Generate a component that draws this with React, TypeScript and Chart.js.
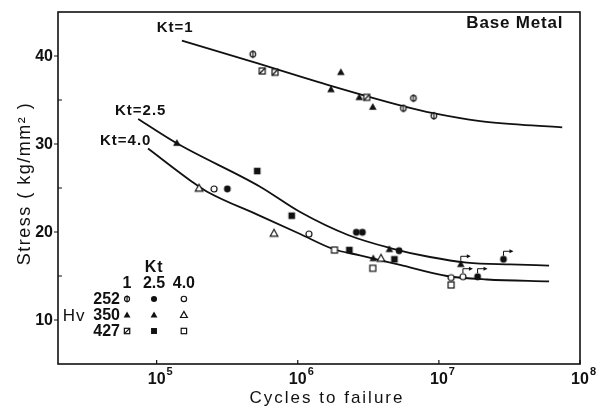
import React, { useEffect, useRef } from 'react';
import { Chart, registerables } from 'chart.js';

Chart.register(...registerables);

// ---------- axes ----------
const xMin = 2e4;
const xMax = 1e8;
const yMin = 5;
const yMax = 45;
const xTicks = [1e5, 1e6, 1e7, 1e8];
const xTickExp = ['5', '6', '7', '8'];
const yTicks = [10, 20, 30, 40];
const yMinorTicks = [15, 25, 35];

// ---------- Kt = 1 (open-with-bar / filled triangle / slashed square) ----------
const kt1Hv252N = [4.8e5, 5.6e6, 6.6e6, 9.2e6];
const kt1Hv252S = [40.2, 34.05, 35.2, 33.2];
const kt1Hv350N = [2.02e6, 1.72e6, 2.73e6, 3.4e6];
const kt1Hv350S = [38.15, 36.2, 35.3, 34.2];
const kt1Hv427N = [5.6e5, 6.9e5, 3.08e6];
const kt1Hv427S = [38.3, 38.15, 35.3];

// ---------- Kt = 2.5 (filled symbols) ----------
const kt25Hv252N = [3.17e5, 2.6e6, 2.87e6, 5.22e6, 1.88e7, 2.87e7];
const kt25Hv252S = [24.9, 19.97, 19.97, 17.87, 14.92, 16.9];
const kt25Hv350N = [1.39e5, 3.43e6, 4.46e6, 1.43e7];
const kt25Hv350S = [30.1, 17.0, 18.03, 16.33];
const kt25Hv427N = [5.16e5, 9.06e5, 2.32e6, 4.84e6];
const kt25Hv427S = [26.93, 21.85, 17.95, 16.9];

// ---------- Kt = 4.0 (open symbols) ----------
const kt4Hv252N = [2.55e5, 1.2e6, 1.22e7, 1.48e7];
const kt4Hv252S = [24.89, 19.77, 14.81, 14.92];
const kt4Hv350N = [2.0e5, 6.79e5, 3.89e6];
const kt4Hv350S = [24.97, 19.85, 17.0];
const kt4Hv427N = [1.82e6, 3.4e6, 1.22e7];
const kt4Hv427S = [17.95, 15.88, 13.98];

// ---------- run-outs (arrows) ----------
const runoutN = [1.43e7, 1.48e7, 1.88e7, 2.87e7];
const runoutS = [16.33, 14.92, 14.92, 16.9];

// ---------- S-N curves ----------
const kt1CurveN = [1.51e5, 4.74e5, 1.72e6, 5.57e6, 9.1e6, 1.96e7, 3.76e7, 7.48e7];
const kt1CurveS = [41.74, 39.35, 36.6, 34.3, 33.5, 32.6, 32.2, 31.9];
const kt25CurveN = [7.4e4, 1.39e5, 5.41e5, 1.04e6, 2.27e6, 4.51e6, 8.65e6, 1.58e7, 3.19e7, 6.04e7];
const kt25CurveS = [32.84, 30.08, 25.15, 22.27, 19.66, 18.18, 17.16, 16.53, 16.31, 16.19];
const kt4CurveN = [8.69e4, 1.78e5, 2.28e5, 5.41e5, 1.04e6, 1.78e6, 2.76e6, 5.31e6, 1.14e7, 2.19e7, 6.04e7];
const kt4CurveS = [29.49, 25.72, 24.58, 21.84, 19.77, 18.07, 17.34, 16.26, 15.0, 14.6, 14.38];

// ---------- texts ----------
const curveLabels = ['Kt=1', 'Kt=2.5', 'Kt=4.0'];
const titleText = 'Base Metal';
const xTitle = 'Cycles to failure';
const yTitle = 'Stress ( kg/mm² )';
const legendKtTitle = 'Kt';
const legendKtCols = ['1', '2.5', '4.0'];
const legendHvTitle = 'Hv';
const legendHvRows = ['252', '350', '427'];

const FONT = "'Liberation Sans', Arial, Helvetica, sans-serif";
const INK = '#111';

type Sym = 'phi' | 'dot' | 'ring' | 'triF' | 'triO' | 'sqF' | 'sqO' | 'sqX';
const legendSyms: Sym[][] = [
  ['phi', 'dot', 'ring'],
  ['triF', 'triF', 'triO'],
  ['sqX', 'sqF', 'sqO'],
];

function drawSym(ctx: CanvasRenderingContext2D, kind: Sym, cx: number, cy: number, s = 1) {
  ctx.save();
  ctx.lineWidth = 1.2;
  ctx.strokeStyle = INK;
  ctx.fillStyle = INK;
  const tri = () => {
    ctx.beginPath();
    ctx.moveTo(cx, cy - 4 * s);
    ctx.lineTo(cx + 3.8 * s, cy + 2.8 * s);
    ctx.lineTo(cx - 3.8 * s, cy + 2.8 * s);
    ctx.closePath();
  };
  switch (kind) {
    case 'phi':
      ctx.beginPath();
      ctx.arc(cx, cy, 2.8 * s, 0, Math.PI * 2);
      ctx.fillStyle = '#fff';
      ctx.fill();
      ctx.stroke();
      ctx.beginPath();
      ctx.moveTo(cx, cy - 3.8 * s);
      ctx.lineTo(cx, cy + 3.8 * s);
      ctx.stroke();
      break;
    case 'dot':
      ctx.beginPath();
      ctx.arc(cx, cy, 3.4 * s, 0, Math.PI * 2);
      ctx.fill();
      break;
    case 'ring':
      ctx.beginPath();
      ctx.arc(cx, cy, 3 * s, 0, Math.PI * 2);
      ctx.fillStyle = '#fff';
      ctx.fill();
      ctx.stroke();
      break;
    case 'triF':
      tri();
      ctx.fill();
      break;
    case 'triO':
      tri();
      ctx.fillStyle = '#fff';
      ctx.fill();
      ctx.stroke();
      break;
    case 'sqF':
      ctx.fillRect(cx - 3.3 * s, cy - 3.3 * s, 6.6 * s, 6.6 * s);
      break;
    case 'sqO':
      ctx.fillStyle = '#fff';
      ctx.fillRect(cx - 3 * s, cy - 3 * s, 6 * s, 6 * s);
      ctx.strokeRect(cx - 3 * s, cy - 3 * s, 6 * s, 6 * s);
      break;
    case 'sqX':
      ctx.fillStyle = '#fff';
      ctx.fillRect(cx - 3 * s, cy - 3 * s, 6 * s, 6 * s);
      ctx.strokeRect(cx - 3 * s, cy - 3 * s, 6 * s, 6 * s);
      ctx.beginPath();
      ctx.moveTo(cx - 3 * s, cy + 3 * s);
      ctx.lineTo(cx + 3 * s, cy - 3 * s);
      ctx.stroke();
      break;
  }
  ctx.restore();
}

function symCanvas(kind: Sym) {
  const c = document.createElement('canvas');
  c.width = 12;
  c.height = 12;
  const g = c.getContext('2d')!;
  drawSym(g, kind, 6, 6);
  return c;
}

function pts(n: number[], s: number[]) {
  return n.map((v, i) => ({ x: v, y: s[i] }));
}

function text(
  ctx: CanvasRenderingContext2D,
  t: string,
  x: number,
  y: number,
  font: string,
  align: CanvasTextAlign,
  spacing = 0
) {
  ctx.font = font;
  (ctx as any).letterSpacing = spacing + 'px';
  ctx.textAlign = align;
  ctx.textBaseline = 'middle';
  ctx.fillText(t, x, y);
}

const overlay = {
  id: 'overlay',
  afterDatasetsDraw(chart: any) {
    const { ctx, chartArea: a, scales } = chart;
    const x = scales.x;
    const y = scales.y;
    const X = (v: number) => x.getPixelForValue(v);
    const Y = (v: number) => y.getPixelForValue(v);
    ctx.save();
    ctx.strokeStyle = INK;
    ctx.fillStyle = INK;

    // frame
    ctx.lineWidth = 1.6;
    ctx.strokeRect(a.left, a.top, a.right - a.left, a.bottom - a.top);

    // y ticks + labels
    ctx.lineWidth = 1.2;
    ctx.beginPath();
    for (const v of yTicks) {
      ctx.moveTo(a.left - 4, Y(v));
      ctx.lineTo(a.left, Y(v));
    }
    for (const v of yMinorTicks) {
      ctx.moveTo(a.left, Y(v));
      ctx.lineTo(a.left + 4, Y(v));
    }
    ctx.stroke();
    for (const v of yTicks) {
      text(ctx, String(v), a.left - 5, Y(v) + 1, `bold 16px ${FONT}`, 'right');
    }

    // x ticks + labels
    ctx.beginPath();
    for (const v of xTicks) {
      ctx.moveTo(X(v), a.bottom);
      ctx.lineTo(X(v), a.bottom - 4);
    }
    ctx.stroke();
    xTicks.forEach((v, i) => {
      const px = X(v);
      text(ctx, '10', px, a.bottom + 16, `bold 16px ${FONT}`, 'center');
      ctx.font = `bold 16px ${FONT}`;
      (ctx as any).letterSpacing = '0px';
      const w = ctx.measureText('10').width;
      text(ctx, xTickExp[i], px + w / 2 + 1, a.bottom + 8, `bold 11px ${FONT}`, 'left');
    });

    // axis titles
    text(ctx, xTitle, (a.left + a.right) / 2 + 8, 398, `17px ${FONT}`, 'center', 2);
    ctx.save();
    ctx.translate(25, Y(25.5));
    ctx.rotate(-Math.PI / 2);
    text(ctx, yTitle, 0, 0, `18px ${FONT}`, 'center', 1.5);
    ctx.restore();

    // curve labels & title
    text(ctx, curveLabels[0], X(1.0e5), Y(43.2), `bold 15px ${FONT}`, 'left', 1);
    text(ctx, curveLabels[1], X(5.07e4), Y(33.75), `bold 15px ${FONT}`, 'left', 1);
    text(ctx, curveLabels[2], X(3.97e4), Y(30.34), `bold 15px ${FONT}`, 'left', 1);
    text(ctx, titleText, X(7.6e7), Y(43.75), `bold 17px ${FONT}`, 'right', 0.8);

    // run-out arrows
    ctx.lineWidth = 1;
    runoutN.forEach((n, i) => {
      const px = X(n);
      const py = Y(runoutS[i]);
      ctx.beginPath();
      ctx.moveTo(px, py - 3.5);
      ctx.lineTo(px, py - 8);
      ctx.lineTo(px + 7, py - 8);
      ctx.stroke();
      ctx.beginPath();
      ctx.moveTo(px + 10, py - 8);
      ctx.lineTo(px + 6, py - 10);
      ctx.lineTo(px + 6, py - 6);
      ctx.closePath();
      ctx.fill();
    });

    // legend block
    const colN = [6.17e4, 9.58e4, 1.56e5];
    const rowS = [12.39, 10.57, 8.75];
    text(ctx, legendKtTitle, X(9.6e4), Y(15.91), `bold 16px ${FONT}`, 'center', 1);
    legendKtCols.forEach((t, i) => {
      text(ctx, t, X(colN[i]), Y(14.09), `bold 16px ${FONT}`, 'center');
    });
    legendHvRows.forEach((t, r) => {
      text(ctx, t, X(5.5e4), Y(rowS[r]) + 1, `bold 16px ${FONT}`, 'right');
      legendSyms[r].forEach((k, c) => drawSym(ctx, k, X(colN[c]), Y(rowS[r]), 0.9));
    });
    text(ctx, legendHvTitle, X(2.6e4), Y(10.57) + 1, `17px ${FONT}`, 'center', 1);

    ctx.restore();
  },
};

export default function App() {
  const ref = useRef<HTMLCanvasElement>(null);
  useEffect(() => {
    const canvas = ref.current!;
    const curve = (n: number[], s: number[]) => ({
      data: pts(n, s),
      showLine: true,
      borderColor: INK,
      borderWidth: 1.8,
      pointRadius: 0,
      cubicInterpolationMode: 'monotone' as const,
      order: 2,
    });
    const marks = (n: number[], s: number[], k: Sym) => ({
      data: pts(n, s),
      showLine: false,
      pointStyle: symCanvas(k),
      pointRadius: 6,
      order: 0,
    });
    const chart = new Chart(canvas, {
      type: 'scatter',
      data: {
        datasets: [
          marks(kt1Hv252N, kt1Hv252S, 'phi'),
          marks(kt1Hv350N, kt1Hv350S, 'triF'),
          marks(kt1Hv427N, kt1Hv427S, 'sqX'),
          marks(kt25Hv252N, kt25Hv252S, 'dot'),
          marks(kt25Hv350N, kt25Hv350S, 'triF'),
          marks(kt25Hv427N, kt25Hv427S, 'sqF'),
          marks(kt4Hv252N, kt4Hv252S, 'ring'),
          marks(kt4Hv350N, kt4Hv350S, 'triO'),
          marks(kt4Hv427N, kt4Hv427S, 'sqO'),
          curve(kt1CurveN, kt1CurveS),
          curve(kt25CurveN, kt25CurveS),
          curve(kt4CurveN, kt4CurveS),
        ] as any,
      },
      options: {
        responsive: false,
        animation: false,
        events: [],
        layout: { padding: { left: 0, right: 16, top: 12, bottom: 0 } },
        plugins: { legend: { display: false }, tooltip: { enabled: false } },
        scales: {
          x: {
            type: 'logarithmic',
            min: xMin,
            max: xMax,
            ticks: { display: false },
            grid: { display: false },
            border: { display: false },
            afterFit: (s: any) => {
              s.height = 46;
            },
          },
          y: {
            type: 'linear',
            min: yMin,
            max: yMax,
            ticks: { display: false },
            grid: { display: false },
            border: { display: false },
            afterFit: (s: any) => {
              s.width = 58;
            },
          },
        },
      } as any,
      plugins: [overlay],
    });
    return () => chart.destroy();
  }, []);
  return (
    <div style={{ position: 'fixed', left: 0, top: 0, width: 596, height: 410, background: '#fff' }}>
      <canvas ref={ref} width={596} height={410} style={{ display: 'block', width: 596, height: 410 }} />
    </div>
  );
}
